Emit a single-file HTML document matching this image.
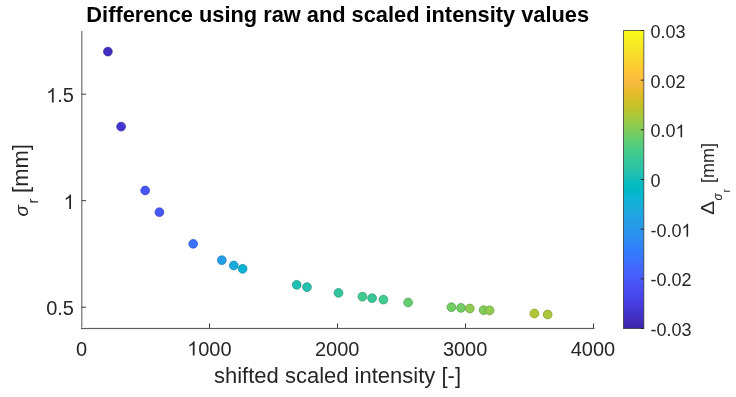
<!DOCTYPE html>
<html><head><meta charset="utf-8"><style>
html,body{margin:0;padding:0;background:#fff;}
svg{display:block;will-change:transform;}
text{font-family:"Liberation Sans",sans-serif;fill:#262626;}
</style></head><body>
<svg width="736" height="397" viewBox="0 0 736 397">
<defs><linearGradient id="par" x1="0" y1="1" x2="0" y2="0">
<stop offset="0.0000" stop-color="#3e26a8"/>
<stop offset="0.0159" stop-color="#402ab4"/>
<stop offset="0.0317" stop-color="#422ec0"/>
<stop offset="0.0476" stop-color="#4332cb"/>
<stop offset="0.0635" stop-color="#4537d5"/>
<stop offset="0.0794" stop-color="#463cde"/>
<stop offset="0.0952" stop-color="#4741e5"/>
<stop offset="0.1111" stop-color="#4747eb"/>
<stop offset="0.1270" stop-color="#484df0"/>
<stop offset="0.1429" stop-color="#4852f4"/>
<stop offset="0.1587" stop-color="#4758f8"/>
<stop offset="0.1746" stop-color="#465efb"/>
<stop offset="0.1905" stop-color="#4563fd"/>
<stop offset="0.2063" stop-color="#4269fe"/>
<stop offset="0.2222" stop-color="#3e6fff"/>
<stop offset="0.2381" stop-color="#3875fe"/>
<stop offset="0.2540" stop-color="#327cfc"/>
<stop offset="0.2698" stop-color="#2f81fa"/>
<stop offset="0.2857" stop-color="#2e87f7"/>
<stop offset="0.3016" stop-color="#2d8cf3"/>
<stop offset="0.3175" stop-color="#2b91ef"/>
<stop offset="0.3333" stop-color="#2797eb"/>
<stop offset="0.3492" stop-color="#259be8"/>
<stop offset="0.3651" stop-color="#23a0e5"/>
<stop offset="0.3810" stop-color="#20a5e3"/>
<stop offset="0.3968" stop-color="#1ca9df"/>
<stop offset="0.4127" stop-color="#18addb"/>
<stop offset="0.4286" stop-color="#12b1d6"/>
<stop offset="0.4444" stop-color="#08b5d0"/>
<stop offset="0.4603" stop-color="#01b8ca"/>
<stop offset="0.4762" stop-color="#02bac3"/>
<stop offset="0.4921" stop-color="#0bbdbd"/>
<stop offset="0.5079" stop-color="#19bfb6"/>
<stop offset="0.5238" stop-color="#24c1ae"/>
<stop offset="0.5397" stop-color="#2cc4a7"/>
<stop offset="0.5556" stop-color="#31c69f"/>
<stop offset="0.5714" stop-color="#37c897"/>
<stop offset="0.5873" stop-color="#3fca8e"/>
<stop offset="0.6032" stop-color="#4acb84"/>
<stop offset="0.6190" stop-color="#57cc7a"/>
<stop offset="0.6349" stop-color="#64cd6f"/>
<stop offset="0.6508" stop-color="#72cd64"/>
<stop offset="0.6667" stop-color="#81cc59"/>
<stop offset="0.6825" stop-color="#8fcb4e"/>
<stop offset="0.6984" stop-color="#9dc943"/>
<stop offset="0.7143" stop-color="#abc739"/>
<stop offset="0.7302" stop-color="#b9c431"/>
<stop offset="0.7460" stop-color="#c5c22a"/>
<stop offset="0.7619" stop-color="#d1bf27"/>
<stop offset="0.7778" stop-color="#dcbd29"/>
<stop offset="0.7937" stop-color="#e6bb2d"/>
<stop offset="0.8095" stop-color="#f0ba36"/>
<stop offset="0.8254" stop-color="#f8ba3d"/>
<stop offset="0.8413" stop-color="#febe3c"/>
<stop offset="0.8571" stop-color="#fec338"/>
<stop offset="0.8730" stop-color="#fec934"/>
<stop offset="0.8889" stop-color="#fccf30"/>
<stop offset="0.9048" stop-color="#fad62d"/>
<stop offset="0.9206" stop-color="#f7dc2a"/>
<stop offset="0.9365" stop-color="#f5e327"/>
<stop offset="0.9524" stop-color="#f5e924"/>
<stop offset="0.9683" stop-color="#f6ef20"/>
<stop offset="0.9841" stop-color="#f7f51b"/>
<stop offset="1.0000" stop-color="#f9fb15"/>
</linearGradient></defs>
<rect width="736" height="397" fill="#fff"/>
<text x="337.7" y="22.3" text-anchor="middle" font-weight="bold" font-size="21.8" style="fill:#000">Difference using raw and scaled intensity values</text>
<rect x="81" y="31" width="1" height="297" fill="#8e8e8e"/>
<rect x="82" y="31" width="1" height="296" fill="#c4c4c4"/>
<rect x="81" y="328" width="513.5" height="1" fill="#5c5c5c"/>
<rect x="82" y="327" width="511" height="1" fill="#eeeeee"/>
<rect x="81" y="329" width="513" height="1" fill="#eeeeee"/>
<g stroke="#3a3a3a" stroke-width="1" fill="none">
<line x1="209.5" y1="328.0" x2="209.5" y2="323.5"/><line x1="337.5" y1="328.0" x2="337.5" y2="323.5"/><line x1="465.5" y1="328.0" x2="465.5" y2="323.5"/><line x1="593.5" y1="328.0" x2="593.5" y2="323.5"/>
<line x1="81.5" y1="307.20" x2="86.0" y2="307.20"/><line x1="81.5" y1="200.70" x2="86.0" y2="200.70"/><line x1="81.5" y1="94.20" x2="86.0" y2="94.20"/>
</g>
<circle cx="107.9" cy="51.6" r="4.4" fill="#422ec0" stroke="#312390" stroke-width="0.7"/>
<circle cx="121.1" cy="126.6" r="4.4" fill="#4435d0" stroke="#33279c" stroke-width="0.7"/>
<circle cx="145.2" cy="190.5" r="4.4" fill="#4755f6" stroke="#3640b9" stroke-width="0.7"/>
<circle cx="159.4" cy="212.2" r="4.4" fill="#4758f8" stroke="#3542ba" stroke-width="0.7"/>
<circle cx="193.2" cy="243.8" r="4.4" fill="#3b72ff" stroke="#2c56bf" stroke-width="0.7"/>
<circle cx="221.8" cy="260.2" r="4.4" fill="#249ee6" stroke="#1b76ad" stroke-width="0.7"/>
<circle cx="233.8" cy="265.5" r="4.4" fill="#1aabdd" stroke="#1480a6" stroke-width="0.7"/>
<circle cx="242.6" cy="268.8" r="4.4" fill="#0db3d3" stroke="#09869e" stroke-width="0.7"/>
<circle cx="296.7" cy="284.8" r="4.4" fill="#1ec0b2" stroke="#179086" stroke-width="0.7"/>
<circle cx="307.0" cy="287.1" r="4.4" fill="#24c1ae" stroke="#1b9183" stroke-width="0.7"/>
<circle cx="338.5" cy="292.9" r="4.4" fill="#31c69f" stroke="#259478" stroke-width="0.7"/>
<circle cx="362.4" cy="296.7" r="4.4" fill="#3fca8e" stroke="#2f976a" stroke-width="0.7"/>
<circle cx="372.1" cy="298.2" r="4.4" fill="#37c897" stroke="#299671" stroke-width="0.7"/>
<circle cx="383.4" cy="299.6" r="4.4" fill="#3fca8e" stroke="#2f976a" stroke-width="0.7"/>
<circle cx="408.1" cy="302.5" r="4.4" fill="#64cd6f" stroke="#4b9a53" stroke-width="0.7"/>
<circle cx="451.4" cy="307.2" r="4.4" fill="#72cd64" stroke="#55994b" stroke-width="0.7"/>
<circle cx="461.0" cy="307.9" r="4.4" fill="#72cd64" stroke="#55994b" stroke-width="0.7"/>
<circle cx="469.8" cy="308.5" r="4.4" fill="#8fcb4e" stroke="#6b983a" stroke-width="0.7"/>
<circle cx="483.6" cy="310.1" r="4.4" fill="#81cc59" stroke="#609943" stroke-width="0.7"/>
<circle cx="489.6" cy="310.3" r="4.4" fill="#8fcb4e" stroke="#6b983a" stroke-width="0.7"/>
<circle cx="534.4" cy="313.5" r="4.4" fill="#b2c635" stroke="#869428" stroke-width="0.7"/>
<circle cx="547.7" cy="314.5" r="4.4" fill="#abc739" stroke="#81952b" stroke-width="0.7"/>
<g font-size="20"><text x="75.94" y="355.60" font-size="20">0</text><path transform="translate(187.13,355.60) scale(0.00977,-0.00977)" d="M763 0H583V1147Q518 1085 412.5 1023Q307 961 223 930V1104Q374 1175 487 1276Q600 1377 647 1472H763Z" fill="#262626"/><text x="198.25" y="355.60" font-size="20">000</text><text x="315.00" y="355.60" font-size="20">2000</text><text x="442.88" y="355.60" font-size="20">3000</text><text x="570.75" y="355.60" font-size="20">4000</text><text x="46.20" y="315.40" font-size="20">0.5</text><path transform="translate(63.58,208.90) scale(0.00977,-0.00977)" d="M763 0H583V1147Q518 1085 412.5 1023Q307 961 223 930V1104Q374 1175 487 1276Q600 1377 647 1472H763Z" fill="#262626"/><path transform="translate(46.20,102.40) scale(0.00977,-0.00977)" d="M763 0H583V1147Q518 1085 412.5 1023Q307 961 223 930V1104Q374 1175 487 1276Q600 1377 647 1472H763Z" fill="#262626"/><text x="57.32" y="102.40" font-size="20">.5</text></g>
<text x="337.5" y="382.8" text-anchor="middle" font-size="22">shifted scaled intensity [-]</text>
<g transform="translate(27.7,216.6) rotate(-90)"><text font-size="19" font-family="Liberation Sans" font-style="italic">σ</text></g><g transform="translate(37.7,203.5) rotate(-90)"><text font-size="15">r</text></g><g transform="translate(27.7,192.9) rotate(-90)"><text font-size="22">[mm]</text></g>
<rect x="623.5" y="30.5" width="20.299999999999955" height="298.0" fill="url(#par)" stroke="#262626" stroke-opacity="0.7" stroke-width="1"/>
<g stroke="#262626" stroke-width="1"><line x1="643.8" y1="30.50" x2="640.8" y2="30.50"/><line x1="643.8" y1="80.17" x2="640.8" y2="80.17"/><line x1="643.8" y1="129.83" x2="640.8" y2="129.83"/><line x1="643.8" y1="179.50" x2="640.8" y2="179.50"/><line x1="643.8" y1="229.17" x2="640.8" y2="229.17"/><line x1="643.8" y1="278.83" x2="640.8" y2="278.83"/><line x1="643.8" y1="328.50" x2="640.8" y2="328.50"/></g>
<g font-size="18"><text x="650.40" y="38.00" font-size="18">0.03</text><text x="650.40" y="87.67" font-size="18">0.02</text><text x="650.40" y="137.33" font-size="18">0.0</text><path transform="translate(675.42,137.33) scale(0.00879,-0.00879)" d="M763 0H583V1147Q518 1085 412.5 1023Q307 961 223 930V1104Q374 1175 487 1276Q600 1377 647 1472H763Z" fill="#262626"/><text x="650.40" y="187.00" font-size="18">0</text><text x="650.40" y="236.67" font-size="18">-0.0</text><path transform="translate(681.42,236.67) scale(0.00879,-0.00879)" d="M763 0H583V1147Q518 1085 412.5 1023Q307 961 223 930V1104Q374 1175 487 1276Q600 1377 647 1472H763Z" fill="#262626"/><text x="650.40" y="286.33" font-size="18">-0.02</text><text x="650.40" y="336.00" font-size="18">-0.03</text></g>
<g transform="translate(713.9,215.0) rotate(-90)"><text font-size="18" transform="scale(1.18,1)">Δ</text></g><g transform="translate(721.7,200.5) rotate(-90)"><text font-size="12" font-family="Liberation Sans" font-style="italic">σ</text></g><g transform="translate(729.8,192.4) rotate(-90)"><text font-size="10.5">r</text></g><g transform="translate(713.9,183.0) rotate(-90)"><text font-size="18">[mm]</text></g>
</svg>
</body></html>
